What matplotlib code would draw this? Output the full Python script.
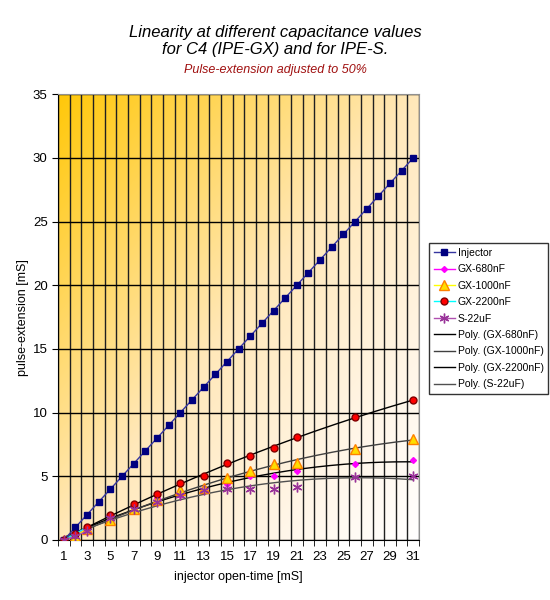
import numpy as np
import matplotlib.pyplot as plt
from matplotlib.colors import LinearSegmentedColormap

plt.rcParams['font.family'] = ['Liberation Sans', 'DejaVu Sans']

# categories on the x axis (injector open-time, mS)
open_time = list(range(1, 32))
tick_labels = [str(v) for v in range(1, 32, 2)]

nan = np.nan
injector = [float(v) for v in range(0, 31)]

# measured series: values only at some categories
gx_680 = [0, 0.4, 1.0, nan, 1.9, nan, 2.6, nan, 3.3, nan, 3.55, nan, 3.95, nan, 4.4, nan,
          5.0, nan, 5.0, nan, 5.45, nan, nan, nan, nan, 5.97, nan, nan, nan, nan, 6.27]
gx_1000 = [0, 0.3, 0.9, nan, 1.6, nan, 2.4, nan, 3.15, nan, 3.95, nan, 4.1, nan, 4.9, nan,
           5.4, nan, 5.95, nan, 6.07, nan, nan, nan, nan, 7.17, nan, nan, nan, nan, 7.95]
gx_2200 = [0, 0.5, 1.0, nan, 2.0, nan, 2.8, nan, 3.65, nan, 4.5, nan, 5.0, nan, 6.03, nan,
           6.62, nan, 7.22, nan, 8.05, nan, nan, nan, nan, 9.65, nan, nan, nan, nan, 11.0]
s_22u = [0, 0.3, 0.7, nan, 1.7, nan, 2.4, nan, 3.0, nan, 3.55, nan, 3.9, nan, 4.0, nan,
         4.0, nan, 4.0, nan, 4.18, nan, nan, nan, nan, 4.97, nan, nan, nan, nan, 5.0]

fig = plt.figure(figsize=(5.5, 6), dpi=100)
ax = fig.add_axes([0.1055, 0.1, 0.6565, 0.743])

# diagonal gradient background: gold upper left -> white lower right
u, v = np.meshgrid(np.linspace(0, 1, 300), np.linspace(1, 0, 300))
t = (u + (1 - v)) / 2
cmap = LinearSegmentedColormap.from_list(
    'bg', [(0, '#FFC80A'), (0.2, '#FFD450'), (0.5, '#FFE8BA'), (0.8, '#FFF6E8'), (1, '#FFFFFF')])
ax.imshow(t, cmap=cmap, vmin=0, vmax=1, extent=[0, 1, 0, 1], transform=ax.transAxes,
          aspect='auto', zorder=0, interpolation='bilinear')

x = np.array(open_time)

ax.plot(x, injector, color='#3636a0', lw=1, marker='s', ms=4,
        mfc='#000080', mec='#000080', label='Injector', zorder=5)
ax.plot(x, gx_680, color='#FF00FF', lw=1, marker='D', ms=3,
        mfc='#FF00FF', mec='#FF00FF', label='GX-680nF', zorder=5)
ax.plot(x, gx_1000, color='#FFFF00', lw=1, marker='^', ms=7,
        mfc='#FFDD00', mec='#FF8000', label='GX-1000nF', zorder=5)
ax.plot(x, gx_2200, color='#00FFFF', lw=1, marker='o', ms=5,
        mfc='#FF0000', mec='#800000', label='GX-2200nF', zorder=5)
ax.plot(x, s_22u, color='#B050B0', lw=1, marker=(6, 2, 0), ms=7,
        mec='#993399', mew=1, label='S-22uF', zorder=5)

# polynomial trendlines, order 2, as in the spreadsheet
xf = np.linspace(1, 31, 200)
trend_colors = ['#000000', '#404040', '#000000', '#505050']
for name, ys, c in zip(['GX-680nF', 'GX-1000nF', 'GX-2200nF', 'S-22uF'],
                       [gx_680, gx_1000, gx_2200, s_22u], trend_colors):
    ys = np.array(ys)
    ok = ~np.isnan(ys)
    coef = np.polyfit(x[ok], ys[ok], 2)
    ax.plot(xf, np.polyval(coef, xf), color=c, lw=1, label=f'Poly. ({name})', zorder=4)

ax.set_xlim(0.5, 31.5)
ax.set_ylim(0, 35)
ax.set_xticks(range(1, 32, 2))
ax.set_xticklabels(tick_labels)
ax.set_xticks(np.arange(0.5, 32, 1), minor=True)
ax.tick_params(axis='x', which='major', length=0, labelsize=9.5, pad=8)
ax.tick_params(axis='x', which='minor', length=4, direction='out')
ax.set_yticks(range(0, 36, 5))
ax.tick_params(axis='y', length=4, direction='out', labelsize=9.5)
ax.grid(True, axis='x', which='minor', color='#202020', lw=1, zorder=1)
ax.grid(True, axis='y', which='major', color='#000000', lw=1, zorder=1)
ax.set_axisbelow(True)

for s in ['top', 'right']:
    ax.spines[s].set_color('#909090')
ax.spines['left'].set_color('#000000')
ax.spines['bottom'].set_color('#000000')

ax.set_xlabel('injector open-time [mS]', fontsize=9, labelpad=6)
ax.set_ylabel('pulse-extension [mS]', fontsize=9, labelpad=3)

fig.text(0.5, 0.932, 'Linearity at different capacitance values\nfor C4 (IPE-GX) and for IPE-S.',
         ha='center', va='center', fontsize=12, style='italic', linespacing=1.15)
fig.text(0.5, 0.884, 'Pulse-extension adjusted to 50%', ha='center', va='center',
         fontsize=9, style='italic', color='#A01010')

leg = ax.legend(loc='upper left', bbox_to_anchor=(0.78, 0.595), bbox_transform=fig.transFigure,
                fontsize=7.5, frameon=True, fancybox=False, edgecolor='#000000',
                handlelength=2.0, handletextpad=0.3, borderaxespad=0,
                labelspacing=0.62, borderpad=0.45)
leg.get_frame().set_linewidth(1)

fig.savefig('out.png', dpi=100)
